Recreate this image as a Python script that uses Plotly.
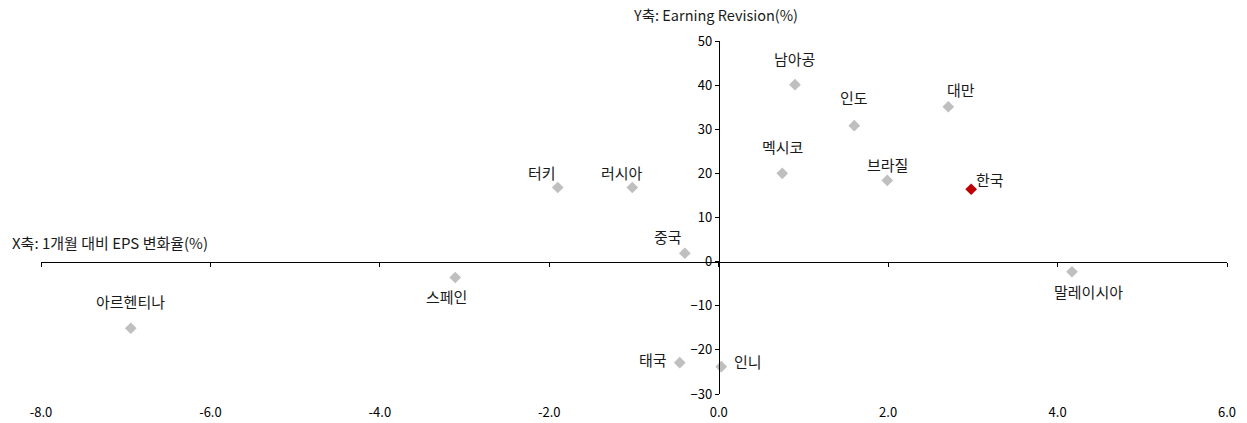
import plotly.graph_objects as go

# ---- data ----
countries = ["남아공", "인도", "대만", "터키", "러시아", "멕시코", "중국",
             "브라질", "한국", "말레이시아", "스페인", "아르헨티나", "태국", "인니"]
eps_change = [0.90, 1.60, 2.71, -1.90, -1.02, 0.75, -0.40,
              1.99, 2.98, 4.17, -3.11, -6.94, -0.46, 0.03]
revision = [40.1, 30.8, 35.1, 16.8, 16.8, 20.0, 1.9,
            18.4, 16.4, -2.3, -3.6, -15.1, -22.9, -23.8]
highlight = "한국"

x_ticks = [-8, -6, -4, -2, 0, 2, 4, 6]
y_ticks = [-30, -20, -10, 0, 10, 20, 30, 40, 50]

# ---- styling / label placement (pixel offsets) ----
label_offsets = {
    "남아공": (0, 26), "인도": (0, 28), "대만": (13, 17), "터키": (-16, 15),
    "러시아": (-10, 15), "멕시코": (0, 27), "중국": (-17, 17), "브라질": (0, 16),
    "한국": (19, 10), "말레이시아": (17, -20), "스페인": (-9, -19),
    "아르헨티나": (0, 27), "태국": (-27, 3), "인니": (27, 5),
}
FONT = "Malgun Gothic, Noto Sans CJK KR, sans-serif"
GRAY = "#BFBFBF"
RED = "#C00000"

xr = [x_ticks[0], x_ticks[-1]]
yr = [y_ticks[0], y_ticks[-1]]

colors = [RED if c == highlight else GRAY for c in countries]

fig = go.Figure()
fig.add_trace(go.Scatter(
    x=eps_change, y=revision, mode="markers",
    marker=dict(symbol="diamond", size=9, color=colors, line=dict(width=0)),
    hoverinfo="text", text=countries, showlegend=False,
))
# helper trace for the bottom tick-label axis
fig.add_trace(go.Scatter(
    x=[xr[0], xr[1]], y=[yr[0], yr[0]], xaxis="x2", mode="markers",
    marker=dict(size=0.1, opacity=0), hoverinfo="skip", showlegend=False,
))

for c, xv, yv in zip(countries, eps_change, revision):
    dx, dy = label_offsets[c]
    fig.add_annotation(x=xv, y=yv, text=c, showarrow=False,
                       xshift=dx, yshift=dy,
                       font=dict(family=FONT, size=15, color="#1a1a1a"))

fig.add_annotation(xref="paper", yref="paper", x=0.5687, y=1.0737,
                   text="Y축: Earning Revision(%)", showarrow=False,
                   xanchor="center", yanchor="middle",
                   font=dict(family=FONT, size=14.5, color="#1a1a1a"))
fig.add_annotation(xref="paper", yref="paper", x=-0.0261, y=0.4286,
                   text="X축: 1개월 대비 EPS 변화율(%)", showarrow=False,
                   xanchor="left", yanchor="middle",
                   font=dict(family=FONT, size=15, color="#1a1a1a"))

x_cross = (0 - xr[0]) / (xr[1] - xr[0])
y_cross = (0 - yr[0]) / (yr[1] - yr[0])

fig.update_layout(
    width=1247, height=423,
    margin=dict(l=41, r=20, t=41, b=29),
    paper_bgcolor="white", plot_bgcolor="white",
    font=dict(family=FONT, size=13, color="#000000"),
    xaxis=dict(range=xr, tickvals=x_ticks, showticklabels=False,
               anchor="free", position=y_cross,
               showline=True, linecolor="black", linewidth=1,
               ticks="outside", ticklen=4, tickcolor="black", tickwidth=1,
               showgrid=False, zeroline=False),
    xaxis2=dict(range=xr, tickvals=x_ticks,
                ticktext=[f"{v:.1f}" for v in x_ticks],
                overlaying="x", anchor="y", side="bottom",
                showline=False, ticks="outside", ticklen=6,
                tickcolor="rgba(0,0,0,0)", showgrid=False, zeroline=False,
                automargin=False,
                tickfont=dict(family=FONT, size=13, color="#000000")),
    yaxis=dict(range=yr, tickvals=y_ticks, anchor="free", position=x_cross,
               side="left", automargin=False,
               showline=True, linecolor="black", linewidth=1,
               ticks="outside", ticklen=4, tickcolor="black", tickwidth=1,
               showgrid=False, zeroline=False,
               tickfont=dict(family=FONT, size=13, color="#000000")),
)

fig.write_html("out.html",
               config={"displayModeBar": False},
               post_script="document.body.style.margin='0px';"
                           "document.body.style.overflow='hidden';")
